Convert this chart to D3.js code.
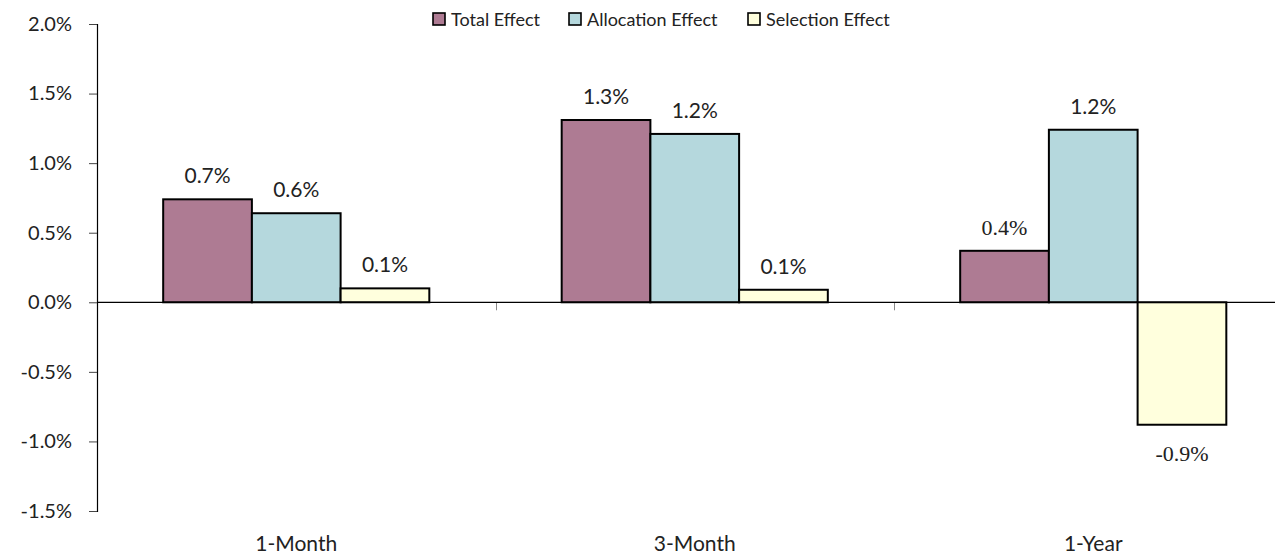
<!DOCTYPE html>
<html>
<head>
<meta charset="utf-8">
<script src="https://cdn.jsdelivr.net/npm/d3@7"></script>
<style>
  html, body { margin: 0; padding: 0; background: #fff; }
  svg { display: block; }
  text { font-family: "Lato", "Open Sans", sans-serif; fill: #222; }
</style>
</head>
<body>
<svg id="chart" width="1275" height="556"></svg>
<script>
// Attribution effects by horizon (fractions, shown as percentages)
const categories = ["1-Month", "3-Month", "1-Year"];
const seriesNames = ["Total Effect", "Allocation Effect", "Selection Effect"];
const totalEffect = [0.0074, 0.0131, 0.0037];
const allocationEffect = [0.0064, 0.0121, 0.0124];
const selectionEffect = [0.0010, 0.0009, -0.0088];
const yTicks = [-0.015, -0.010, -0.005, 0.0, 0.005, 0.010, 0.015, 0.020];
const colors = ["#ae7b93", "#b5d8dd", "#ffffdd"];

const series = [totalEffect, allocationEffect, selectionEffect];

const svg = d3.select("#chart");
const margin = { left: 97, top: 24, bottom: 45 };
const plotRight = 97 + 3 * 398.5;

const y = d3.scaleLinear()
  .domain([-0.015, 0.020])
  .range([556 - margin.bottom, margin.top]);

const x0 = d3.scaleBand()
  .domain(categories)
  .range([margin.left, plotRight])
  .paddingInner(0)
  .paddingOuter(0);

const x1 = d3.scaleBand()
  .domain(d3.range(series.length))
  .range([0, x0.bandwidth()])
  .paddingInner(0)
  .paddingOuter(0.746);

// Percent format with a plain hyphen for negatives
const locale = d3.formatLocale({
  decimal: ".", thousands: ",", grouping: [3], currency: ["$", ""],
  minus: "-", percent: "%"
});
const fmt = locale.format(".1%");

// Y axis
const yAxis = d3.axisLeft(y)
  .tickValues(yTicks)
  .tickFormat(fmt)
  .tickSize(8)
  .tickPadding(17);
const gy = svg.append("g")
  .attr("transform", `translate(${margin.left},0)`)
  .call(yAxis);
gy.select(".domain").attr("stroke", "#000").attr("stroke-width", 1.2);
gy.selectAll(".tick line").attr("stroke", "#444");
gy.selectAll(".tick text")
  .style("font-size", "20px")
  .attr("fill", "#222");

// Category separator ticks below the zero line
const zeroY = y(0);
svg.append("g")
  .selectAll("line")
  .data(categories.slice(1))
  .join("line")
  .attr("x1", d => Math.round(x0(d)) + 0.5)
  .attr("x2", d => Math.round(x0(d)) + 0.5)
  .attr("y1", zeroY)
  .attr("y2", zeroY + 8)
  .attr("stroke", "#888")
  .attr("stroke-width", 1);

// Bars
const groups = svg.append("g")
  .selectAll("g")
  .data(categories)
  .join("g")
  .attr("transform", d => `translate(${x0(d)},0)`);

groups.selectAll("rect")
  .data((d, i) => series.map((s, k) => ({ k, i, v: s[i] })))
  .join("rect")
  .attr("x", d => x1(d.k))
  .attr("width", x1.bandwidth())
  .attr("y", d => y(Math.max(0, d.v)))
  .attr("height", d => Math.abs(y(d.v) - y(0)))
  .attr("fill", d => colors[d.k])
  .attr("stroke", "#000")
  .attr("stroke-width", 2);

// Value labels (the last group's total and selection labels are set in a serif face)
const serifLabel = d => d.i === 2 && d.k !== 1;
groups.selectAll("text.val")
  .data((d, i) => series.map((s, k) => ({ k, i, v: s[i] })))
  .join("text")
  .attr("class", "val")
  .attr("x", d => x1(d.k) + x1.bandwidth() / 2)
  .attr("y", d => d.v >= 0 ? y(d.v) - 16 : y(d.v) + 36)
  .attr("text-anchor", "middle")
  .style("font-size", d => serifLabel(d) ? "22px" : "21px")
  .style("font-family", d => serifLabel(d) ? "'Liberation Serif', 'DejaVu Serif', serif" : null)
  .text(d => fmt(d.v));

// Zero axis line
svg.append("line")
  .attr("x1", margin.left)
  .attr("x2", 1275)
  .attr("y1", zeroY)
  .attr("y2", zeroY)
  .attr("stroke", "#000")
  .attr("stroke-width", 1.2);

// Category labels
svg.append("g")
  .selectAll("text")
  .data(categories)
  .join("text")
  .attr("x", d => x0(d) + x0.bandwidth() / 2)
  .attr("y", 551)
  .attr("text-anchor", "middle")
  .style("font-size", "21px")
  .text(d => d);

// Legend
const legendX = [433, 569, 748];
const legend = svg.append("g")
  .selectAll("g")
  .data(seriesNames)
  .join("g")
  .attr("transform", (d, i) => `translate(${legendX[i]},13)`);
legend.append("rect")
  .attr("width", 12)
  .attr("height", 12)
  .attr("fill", (d, i) => colors[i])
  .attr("stroke", "#000")
  .attr("stroke-width", 1.6);
legend.append("text")
  .attr("x", 18)
  .attr("y", 13)
  .style("font-size", "18px")
  .text(d => d);
</script>
</body>
</html>
